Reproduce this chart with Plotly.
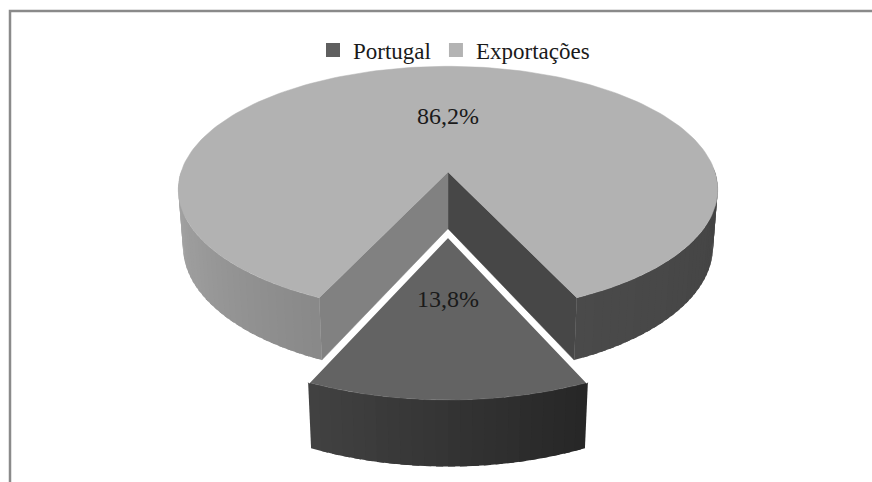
import numpy as np
import plotly.graph_objects as go

# ---------------- data ----------------
categories = ["Portugal", "Exportações"]
values = [13.8, 86.2]
pulls = [0.49, 0.0]

# ---------------- styles ----------------
top_colors = ["#636363", "#b2b2b2"]
legend_colors = ["#5f5f5f", "#b3b3b3"]
FONT = "Liberation Serif, Times New Roman, Times, serif"

# 3D projection parameters (pixel space)
CX, CY = 448.0, 172.0
S = 267.0
ALPHA = np.arcsin(0.452)
DIST = 6.29
H = 0.242

FIG_W, FIG_H = 900, 482


def proj(X, Y, Z):
    X = np.asarray(X, float)
    Y = np.asarray(Y, float)
    Z = np.asarray(Z, float)
    d = -Z * np.cos(ALPHA) + Y * np.sin(ALPHA)
    f = 1.0 / (1.0 - d / DIST)
    sx = CX + S * f * X
    sy = CY - S * f * (Y * np.cos(ALPHA) + Z * np.sin(ALPHA))
    return sx, sy


def hexmix(c1, c2, u):
    a = [int(c1[i:i + 2], 16) for i in (1, 3, 5)]
    b = [int(c2[i:i + 2], 16) for i in (1, 3, 5)]
    m = [round(a[k] + (b[k] - a[k]) * u) for k in range(3)]
    return "#%02x%02x%02x" % tuple(m)


total = sum(values)
spans = [v / total * 360.0 for v in values]
start = 270.0 - spans[0] / 2.0
ranges = []
a = start
for sp in spans:
    ranges.append((a, a + sp))
    a += sp

fig = go.Figure()

# chart-area frame (only left and top edges fall inside the captured window)
fig.add_trace(go.Scatter(x=[10, 10, 890], y=[490, 11, 11], mode="lines",
                         line=dict(color="#8a8a8a", width=2.5),
                         hoverinfo="skip", showlegend=False))


def add_poly(xs, ys, color, name, lw=0.0):
    fig.add_trace(go.Scatter(
        x=list(xs) + [xs[0]], y=list(ys) + [ys[0]], mode="lines", fill="toself",
        fillcolor=color, line=dict(color=color, width=lw),
        hoverinfo="skip", showlegend=False, name=name))


def side_color(i, t):
    tt = t % 360
    if i == 0:
        u = (tt - 245) / 50.0
        return hexmix("#424242", "#262626", min(max(u, 0), 1))
    if tt < 270:
        u = (tt - 180) / 65.0
        return hexmix("#a8a8a8", "#898989", min(max(u, 0), 1))
    u = (tt - 295) / 65.0
    return hexmix("#4a4a4a", "#434343", min(max(u, 0), 1))


cut_colors = {"start": "#474747", "end": "#818181"}

# draw the back slice first, then the pulled front slice
order = [1, 0]
for i in order:
    t0, t1 = ranges[i]
    mid = np.radians((t0 + t1) / 2.0)
    ox, oz = pulls[i] * np.cos(mid), pulls[i] * np.sin(mid)

    # cut faces of the big slice (visible through the gap)
    if pulls[i] == 0:
        for key, tdeg in (("start", t0), ("end", t1)):
            tr = np.radians(tdeg)
            X = [ox, ox + np.cos(tr), ox + np.cos(tr), ox]
            Z = [oz, oz + np.sin(tr), oz + np.sin(tr), oz]
            Y = [0, 0, -H, -H]
            sx, sy = proj(X, Y, Z)
            add_poly(sx, sy, cut_colors[key], categories[i], lw=0.5)

    # outer side wall in overlapping strips (front half only)
    n = int(max(8, (t1 - t0) / 2.0))
    ts = np.linspace(t0, t1, n + 1)
    step = ts[1] - ts[0]
    for k in range(n):
        ta, tb = ts[k], min(ts[k + 1] + 0.6 * step, t1)
        tm = np.radians((ts[k] + ts[k + 1]) / 2)
        if np.sin(tm) > 0.02:
            continue
        seg = np.radians(np.linspace(ta, tb, 4))
        X = np.concatenate([ox + np.cos(seg), ox + np.cos(seg[::-1])])
        Z = np.concatenate([oz + np.sin(seg), oz + np.sin(seg[::-1])])
        Y = np.concatenate([np.zeros(4), -H * np.ones(4)])
        sx, sy = proj(X, Y, Z)
        add_poly(sx, sy, side_color(i, (ts[k] + ts[k + 1]) / 2), categories[i])

    # top face
    tt = np.radians(np.linspace(t0, t1, 200))
    X = np.concatenate([[ox], ox + np.cos(tt)])
    Z = np.concatenate([[oz], oz + np.sin(tt)])
    Y = np.zeros_like(X)
    sx, sy = proj(X, Y, Z)
    add_poly(sx, sy, top_colors[i], categories[i], lw=0.5)

    if pulls[i] > 0:
        r0, r1 = np.radians(t0), np.radians(t1)
        X = [ox + np.cos(r0), ox, ox + np.cos(r1)]
        Z = [oz + np.sin(r0), oz, oz + np.sin(r1)]
        sx, sy = proj(X, [0, 0, 0], Z)
        fig.add_trace(go.Scatter(x=sx, y=sy, mode="lines",
                                 line=dict(color="white", width=3.5),
                                 hoverinfo="skip", showlegend=False))

# data labels
label_r = [0.44, 0.48]
for i in range(len(values)):
    t0, t1 = ranges[i]
    mid = np.radians((t0 + t1) / 2.0)
    ox, oz = pulls[i] * np.cos(mid), pulls[i] * np.sin(mid)
    lx, ly = proj([ox + label_r[i] * np.cos(mid)], [0], [oz + label_r[i] * np.sin(mid)])
    txt = ("%.1f%%" % values[i]).replace(".", ",")
    fig.add_trace(go.Scatter(x=lx, y=ly, mode="text", text=[txt],
                             textfont=dict(family=FONT, size=24, color="#1a1a1a"),
                             textposition="middle center", hoverinfo="skip",
                             showlegend=False))

# legend entries
for i, c in enumerate(categories):
    fig.add_trace(go.Scatter(x=[None], y=[None], mode="markers", name=c,
                             marker=dict(symbol="square", size=14, color=legend_colors[i]),
                             showlegend=True))

fig.update_layout(
    width=FIG_W, height=FIG_H,
    margin=dict(l=0, r=0, t=0, b=0),
    paper_bgcolor="white", plot_bgcolor="white",
    font=dict(family=FONT),
    xaxis=dict(range=[0, FIG_W], visible=False, fixedrange=True),
    yaxis=dict(range=[FIG_H, 0], visible=False, fixedrange=True),
    legend=dict(orientation="h", x=454 / FIG_W, xanchor="center", y=1 - 50 / FIG_H,
                yanchor="middle",
                font=dict(family=FONT, size=23, color="#1a1a1a"),
                bgcolor="rgba(0,0,0,0)", itemwidth=30, tracegroupgap=0),
    showlegend=True,
)

fig.write_html(
    "out.html",
    config={"displayModeBar": False},
    post_script=(
        "document.documentElement.style.margin='0';"
        "document.documentElement.style.overflow='hidden';"
        "document.body.style.margin='0';"
        "document.body.style.overflow='hidden';"
    ),
)
